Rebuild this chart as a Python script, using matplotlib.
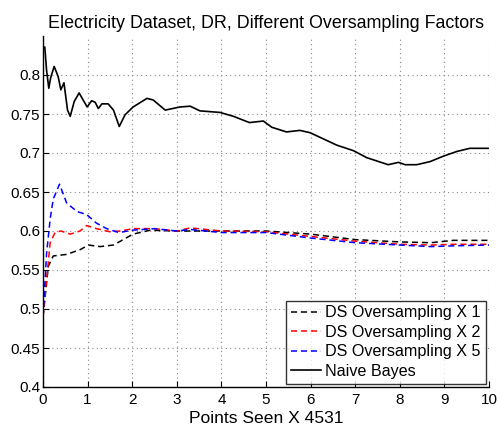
import matplotlib
matplotlib.use("Agg")
import matplotlib.pyplot as plt

plt.rcParams['font.family'] = ['Liberation Sans', 'DejaVu Sans']

# Naive Bayes (solid black)
nb_x = [0.0, 0.04, 0.08, 0.13, 0.17, 0.25, 0.34, 0.40, 0.47, 0.55, 0.61, 0.70, 0.81,
        0.99, 1.09, 1.17, 1.24, 1.32, 1.46, 1.58, 1.71, 1.84, 2.02, 2.33, 2.47, 2.74,
        3.07, 3.30, 3.52, 3.97, 4.27, 4.63, 4.94, 5.13, 5.46, 5.76, 5.99, 6.59, 6.96,
        7.26, 7.74, 7.97, 8.12, 8.38, 8.68, 8.98, 9.28, 9.57, 9.98]
nb_y = [0.835, 0.836, 0.806, 0.783, 0.796, 0.811, 0.798, 0.781, 0.790, 0.755, 0.747,
        0.766, 0.777, 0.759, 0.767, 0.765, 0.757, 0.763, 0.763, 0.755, 0.734, 0.749,
        0.759, 0.770, 0.768, 0.755, 0.759, 0.760, 0.754, 0.752, 0.747, 0.739, 0.741,
        0.733, 0.727, 0.729, 0.726, 0.710, 0.703, 0.694, 0.685, 0.688, 0.685, 0.685,
        0.689, 0.696, 0.702, 0.706, 0.706]

# DS Oversampling X 1 (black dashed)
ds1_x = [0.0, 0.12, 0.23, 0.53, 0.83, 1.02, 1.28, 1.58, 1.80, 2.02, 2.40, 3.0, 4.0,
         5.0, 6.0, 7.0, 8.0, 8.7, 9.2, 10.0]
ds1_y = [0.49, 0.555, 0.568, 0.570, 0.576, 0.582, 0.580, 0.582, 0.589, 0.596, 0.601,
         0.600, 0.600, 0.600, 0.596, 0.589, 0.586, 0.585, 0.588, 0.588]

# DS Oversampling X 2 (red dashed)
ds2_x = [0.0, 0.16, 0.27, 0.40, 0.61, 0.83, 0.98, 1.20, 1.50, 1.73, 2.02, 2.50, 3.0,
         3.30, 4.0, 5.0, 6.0, 7.0, 8.0, 8.7, 9.2, 10.0]
ds2_y = [0.49, 0.585, 0.598, 0.600, 0.596, 0.600, 0.607, 0.603, 0.599, 0.600, 0.603,
         0.603, 0.600, 0.604, 0.600, 0.599, 0.593, 0.587, 0.583, 0.582, 0.583, 0.583]

# DS Oversampling X 5 (blue dashed)
ds5_x = [0.0, 0.08, 0.16, 0.23, 0.37, 0.53, 0.76, 0.98, 1.20, 1.43, 1.70, 2.0, 2.5,
         3.0, 3.3, 4.0, 5.0, 6.0, 7.0, 8.0, 8.7, 9.2, 10.0]
ds5_y = [0.49, 0.571, 0.615, 0.641, 0.660, 0.636, 0.625, 0.621, 0.610, 0.603, 0.598,
         0.601, 0.603, 0.600, 0.602, 0.598, 0.598, 0.591, 0.585, 0.582, 0.580, 0.581,
         0.582]

x_ticks = [0, 1, 2, 3, 4, 5, 6, 7, 8, 9, 10]
y_ticks = [0.4, 0.45, 0.5, 0.55, 0.6, 0.65, 0.7, 0.75, 0.8]
y_ticklabels = ['0.4', '0.45', '0.5', '0.55', '0.6', '0.65', '0.7', '0.75', '0.8']

fig = plt.figure(figsize=(4.97, 4.29), dpi=100)
ax = fig.add_axes([43/497, 1-387/429, (489-43)/497, (387-36)/429])

dash = (4, 2.5)
ax.plot(ds1_x, ds1_y, color='black', lw=1.1, dashes=dash, label='DS Oversampling X 1')
ax.plot(ds2_x, ds2_y, color='red', lw=1.1, dashes=dash, label='DS Oversampling X 2')
ax.plot(ds5_x, ds5_y, color='blue', lw=1.1, dashes=dash, label='DS Oversampling X 5')
ax.plot(nb_x, nb_y, color='black', lw=1.2, label='Naive Bayes')

ax.set_xlim(0, 10)
ax.set_ylim(0.4, 0.85)
ax.set_xticks(x_ticks)
ax.set_yticks(y_ticks)
ax.set_yticklabels(y_ticklabels)
ax.tick_params(direction='in', labelsize=11, length=4, pad=2)
ax.tick_params(axis='x', pad=4)
for s in ['top', 'right']:
    ax.spines[s].set_visible(False)
for s in ['left', 'bottom']:
    ax.spines[s].set_linewidth(1.0)
ax.grid(True, linestyle=(0, (1, 3)), color='#888888', lw=0.8)
ax.set_axisbelow(True)

ax.set_title('Electricity Dataset, DR, Different Oversampling Factors', fontsize=12.9, pad=6)
ax.set_xlabel('Points Seen X 4531', fontsize=12.6, labelpad=3)

leg = ax.legend(loc='lower right', fontsize=11.6, frameon=True, fancybox=False,
                handlelength=1.9, handletextpad=0.25, borderpad=0.3, labelspacing=0.28,
                borderaxespad=0.2)
leg.get_frame().set_edgecolor('black')
leg.get_frame().set_linewidth(1.0)

fig.savefig('out.png', dpi=100)
